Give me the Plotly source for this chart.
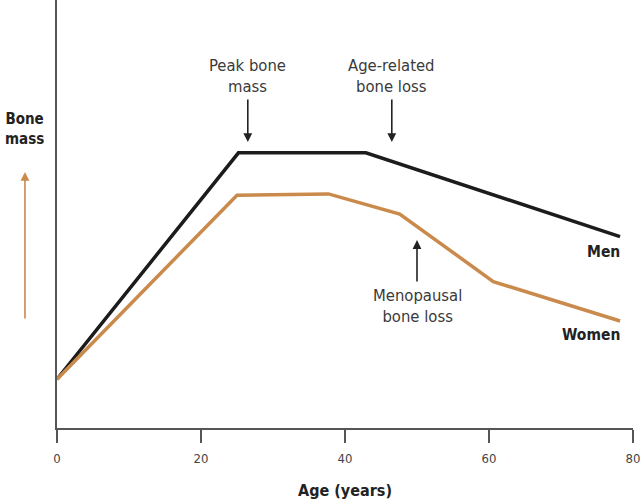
import plotly.graph_objects as go

# Data (arbitrary bone-mass units)
ages_men = [0, 25.2, 42.9, 78.2]
mass_men = [11.4, 64.3, 64.3, 44.7]
ages_women = [0, 25.0, 37.7, 47.6, 60.6, 78.2]
mass_women = [11.4, 54.4, 54.7, 50.0, 34.2, 25.0]
x_ticks = [0, 20, 40, 60, 80]

FONT = "DejaVu Sans Condensed, Liberation Sans Narrow, sans-serif"
TXT = "#3a3a3a"
ORANGE = "#c98a4b"

fig = go.Figure()
fig.add_trace(go.Scatter(x=ages_men, y=mass_men, mode="lines",
                         line=dict(color="#1c1c1c", width=3.5), showlegend=False))
fig.add_trace(go.Scatter(x=ages_women, y=mass_women, mode="lines",
                         line=dict(color=ORANGE, width=3.5), showlegend=False))

ann = []
def arrow(x, y, ay, color="#222", xref="x"):
    ann.append(dict(x=x, y=y, xref=xref, yref="y", ax=0, ay=ay, text="",
                    showarrow=True, arrowhead=2, arrowsize=1.1, arrowwidth=1.6,
                    arrowcolor=color, standoff=0))
def label(x, y, text, size=16.5, bold=False, xanchor="center", xref="x"):
    ann.append(dict(x=x, y=y, xref=xref, yref="y", text=f"<b>{text}</b>" if bold else text,
                    showarrow=False, xanchor=xanchor, yanchor="middle", align="center",
                    font=dict(family=FONT, size=size, color="#222" if bold else TXT)))

arrow(26.5, 66.8, -44)
label(26.5, 82.2, "Peak bone<br>mass")
arrow(46.5, 66.8, -44)
label(46.5, 82.2, "Age-related<br>bone loss")
arrow(50.0, 43.9, 43)
label(50.0, 28.5, "Menopausal<br>bone loss")
label(78.5, 41.1, "Men", size=15.5, bold=True, xanchor="right")
label(78.5, 21.7, "Women", size=15.5, bold=True, xanchor="right")
label(-0.0556, 69.9, "Bone<br>mass", size=15, bold=True, xref="paper")
arrow(-0.0556, 59.8, 148, color=ORANGE, xref="paper")

fig.update_layout(
    width=644, height=501,
    margin=dict(l=57, r=11, t=0, b=73, autoexpand=False),
    paper_bgcolor="white", plot_bgcolor="white",
    annotations=ann,
    xaxis=dict(range=[0, 80], tickvals=x_ticks, ticks="outside", ticklen=13,
               tickcolor="#555", tickwidth=1.5, showline=True, linecolor="#555",
               linewidth=1.5, showgrid=False, zeroline=False, automargin=False,
               ticklabelstandoff=5,
               tickfont=dict(family=FONT, size=13, color="#444"),
               title=dict(text="<b>Age (years)</b>", standoff=19,
                          font=dict(family=FONT, size=16, color="#222"))),
    yaxis=dict(range=[0, 100], showticklabels=False, ticks="", showline=True,
               linecolor="#555", linewidth=1.5, showgrid=False, zeroline=False,
               automargin=False),
)
fig.write_html("out.html", config={"displayModeBar": False},
               post_script="document.body.style.margin='0';document.body.style.overflow='hidden';")
